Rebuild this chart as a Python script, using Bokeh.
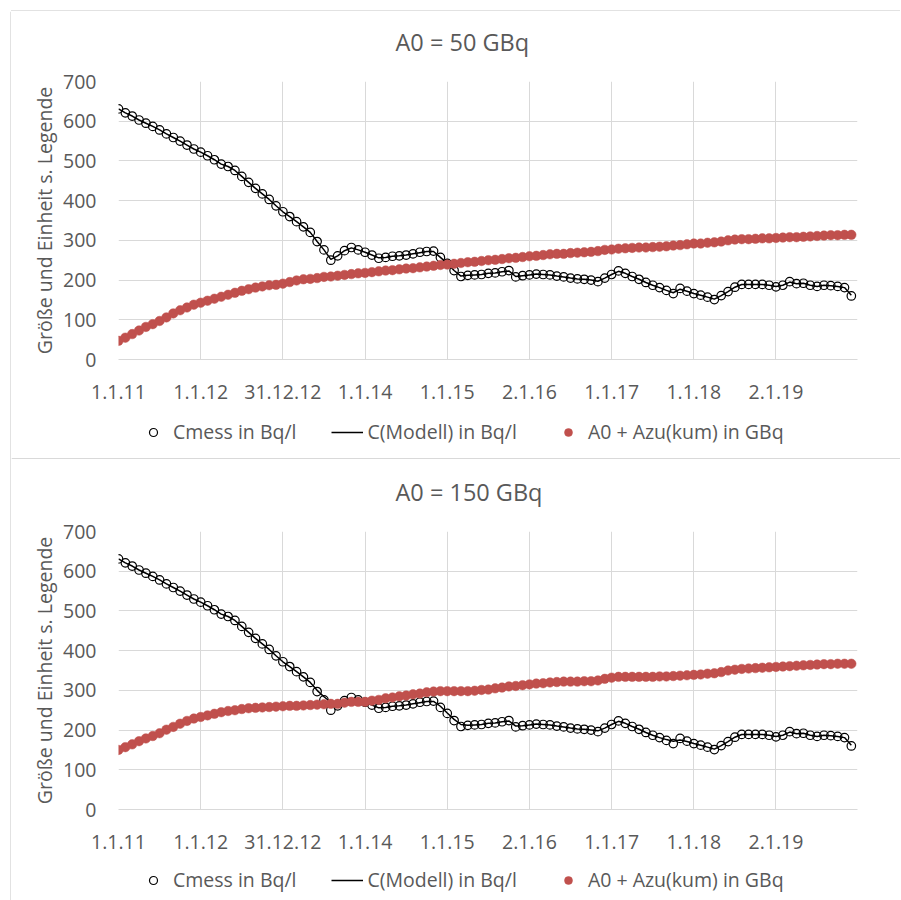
from bokeh.plotting import figure
from bokeh.models import Range1d, FixedTicker, Legend, LegendItem
from bokeh.core.properties import value
from bokeh.layouts import column, row
from bokeh.embed import file_html
from bokeh.resources import INLINE

# ---------------- data (monthly values, month 0 = 1.1.11) ----------------
MONTHS = list(range(108))
TICK_POS = [0, 12, 24, 36, 48, 60, 72, 84, 96]
TICK_LABELS = ["1.1.11", "1.1.12", "31.12.12", "1.1.14", "1.1.15",
               "2.1.16", "1.1.17", "1.1.18", "2.1.19"]
Y_TICKS = [0, 100, 200, 300, 400, 500, 600, 700]

TITLES = ["A0 = 50 GBq", "A0 = 150 GBq"]
LEGEND_LABELS = ["Cmess in Bq/l", "C(Modell) in Bq/l", "A0 + Azu(kum) in GBq"]
Y_LABEL = "Größe und Einheit s. Legende"

CMESS = [631, 621, 613, 603, 595, 587, 578, 568, 559, 550, 540, 530,
         522, 513, 503, 492, 486, 476, 461, 446, 431, 417, 403, 387,
         372, 360, 347, 334, 320, 297, 276, 250, 261, 274, 282, 276,
         270, 263, 255, 257, 260, 261, 263, 266, 270, 272, 273, 257,
         242, 224, 209, 212, 213, 214, 217, 218, 221, 224, 208, 211,
         213, 215, 214, 213, 210, 208, 205, 203, 202, 200, 196, 205,
         214, 223, 217, 209, 202, 194, 187, 181, 174, 166, 179, 172,
         166, 162, 157, 151, 161, 171, 182, 189, 189, 189, 189, 187,
         183, 187, 196, 191, 192, 187, 184, 187, 186, 184, 181, 160]

MODELL_50 = [631, 621, 613, 603, 595, 587, 578, 568, 559, 550, 540, 530,
             522, 513, 503, 492, 486, 476, 461, 446, 431, 417, 403, 387,
             372, 360, 347, 334, 320, 297, 276, 252, 261, 274, 281, 276,
             270, 263, 256, 257, 260, 261, 263, 266, 269, 272, 272, 257,
             242, 224, 210, 212, 213, 214, 217, 218, 221, 223, 209, 211,
             213, 215, 214, 213, 210, 208, 205, 203, 202, 200, 197, 205,
             214, 222, 217, 209, 202, 194, 187, 181, 174, 168, 177, 172,
             166, 162, 157, 152, 161, 171, 182, 189, 189, 189, 189, 187,
             184, 187, 195, 191, 192, 187, 184, 187, 186, 184, 181, 162]

MODELL_150 = [631, 621, 613, 603, 595, 587, 578, 568, 559, 550, 540, 530,
              522, 513, 503, 492, 486, 476, 461, 446, 431, 417, 403, 387,
              372, 360, 347, 334, 320, 300, 284, 270, 268, 272, 276, 275,
              270, 263, 256, 257, 260, 261, 263, 266, 269, 272, 272, 260,
              243, 227, 214, 212, 213, 214, 217, 218, 221, 223, 210, 211,
              213, 215, 214, 213, 210, 208, 205, 203, 202, 200, 198, 205,
              214, 222, 217, 209, 202, 194, 187, 181, 176, 172, 175, 171,
              166, 162, 157, 152, 161, 171, 182, 189, 189, 189, 189, 187,
              184, 187, 195, 191, 192, 187, 184, 187, 186, 184, 181, 162]

RED_50 = [47, 55, 64, 73, 82, 89, 97, 106, 116, 124, 131, 138,
          143, 148, 153, 158, 163, 168, 173, 177, 181, 184, 187, 188,
          191, 195, 199, 202, 203, 205, 208, 209, 211, 213, 215, 217,
          218, 220, 222, 224, 225, 227, 229, 230, 232, 234, 236, 238,
          239, 241, 243, 245, 246, 248, 250, 251, 253, 255, 256, 258,
          260, 261, 263, 265, 266, 266, 268, 269, 270, 271, 273, 276,
          277, 279, 280, 281, 282, 282, 283, 284, 285, 287, 288, 290,
          292, 292, 294, 295, 297, 300, 302, 303, 303, 304, 305, 305,
          306, 307, 308, 308, 309, 310, 311, 312, 313, 313, 314, 314]

RED_150 = [150, 157, 164, 172, 179, 185, 192, 201, 208, 216, 223, 229,
           233, 237, 241, 245, 248, 250, 253, 255, 256, 257, 258, 259,
           260, 261, 261, 262, 263, 264, 265, 266, 266, 269, 271, 271,
           271, 274, 276, 280, 282, 285, 287, 290, 292, 295, 297, 298,
           298, 298, 298, 298, 299, 301, 302, 305, 307, 310, 311, 313,
           315, 317, 318, 320, 321, 322, 322, 322, 323, 323, 325, 329,
           332, 334, 334, 334, 334, 334, 334, 335, 335, 336, 337, 338,
           339, 340, 342, 343, 346, 350, 352, 354, 355, 356, 357, 358,
           359, 360, 361, 362, 363, 364, 365, 366, 366, 367, 367, 367]

FONT = "Open Sans"
TXT = "#595959"
GRID = "#d9d9d9"
RED = "#c0504d"
W = 889          # width of the chart column (page x 11 .. 900)
OFF = 11         # page x of the chart column


def style_markers(p, xs, mess, modell, red):
    r_mess = p.scatter(xs, mess, marker="circle", size=8.5,
                       fill_color=None, line_color="black", line_width=1.2)
    r_mod = p.line(xs, modell, line_color="black", line_width=1.5)
    r_red = p.scatter(xs, red, marker="circle", size=9.5,
                      fill_color=RED, line_color=RED, line_width=0.5)
    return r_mess, r_mod, r_red


def blank(width, height):
    p = figure(width=width, height=height, x_range=Range1d(0, width),
               y_range=Range1d(0, height), output_backend="svg",
               toolbar_location=None, min_border=0,
               x_axis_location=None, y_axis_location=None)
    p.frame_align = False
    p.outline_line_color = None
    p.xgrid.visible = False
    p.ygrid.visible = False
    return p


def make_title(text, height, y):
    p = blank(W, height)
    p.text(x=[395 - OFF], y=[y], text=[text], text_font=value(FONT),
           text_font_size="23.5px", text_color=TXT,
           text_align="left", text_baseline="middle")
    return p


def make_main(red, modell, height, top):
    bottom = height - top - 278
    p = figure(width=W, height=height,
               x_range=Range1d(0, 107.9), y_range=Range1d(0, 700),
               output_backend="svg", toolbar_location=None,
               min_border_top=top, min_border_left=118 - OFF,
               min_border_right=W - (857 - OFF), min_border_bottom=bottom)
    p.outline_line_color = None

    p.xaxis.ticker = FixedTicker(ticks=TICK_POS)
    p.xaxis.major_label_overrides = {t: l for t, l in zip(TICK_POS, TICK_LABELS)}
    p.xaxis.axis_line_color = GRID
    p.xaxis.major_tick_line_color = None
    p.xaxis.minor_tick_line_color = None
    p.xaxis.major_label_standoff = 19
    p.xaxis.major_label_text_font = FONT
    p.xaxis.major_label_text_font_size = "19.5px"
    p.xaxis.major_label_text_color = TXT

    p.yaxis.ticker = FixedTicker(ticks=Y_TICKS)
    p.yaxis.axis_line_color = None
    p.yaxis.major_tick_line_color = None
    p.yaxis.minor_tick_line_color = None
    p.yaxis.major_label_standoff = 16
    p.yaxis.major_label_text_font = FONT
    p.yaxis.major_label_text_font_size = "19.5px"
    p.yaxis.major_label_text_color = TXT
    p.yaxis.axis_label = Y_LABEL
    p.yaxis.axis_label_standoff = 2
    p.yaxis.axis_label_text_font = FONT
    p.yaxis.axis_label_text_font_size = "19.5px"
    p.yaxis.axis_label_text_font_style = "normal"
    p.yaxis.axis_label_text_color = TXT

    p.xgrid.ticker = FixedTicker(ticks=TICK_POS)
    p.ygrid.ticker = FixedTicker(ticks=Y_TICKS)
    p.xgrid.grid_line_color = GRID
    p.ygrid.grid_line_color = GRID

    style_markers(p, MONTHS, CMESS, modell, red)
    return p


def make_legend(height, leg_y, separator):
    p = blank(W, height)
    # legend proxies lie outside the visible range
    r_mess, r_mod, r_red = style_markers(p, [-50, -40], [-50, -40],
                                         [-50, -40], [-50, -40])
    legend = Legend(items=[LegendItem(label=LEGEND_LABELS[0], renderers=[r_mess]),
                           LegendItem(label=LEGEND_LABELS[1], renderers=[r_mod]),
                           LegendItem(label=LEGEND_LABELS[2], renderers=[r_red])],
                    orientation="horizontal", location=(137 - OFF, leg_y),
                    glyph_width=32, glyph_height=20, label_standoff=4,
                    spacing=35, padding=0, margin=0,
                    border_line_color=None, background_fill_alpha=0,
                    label_text_font=FONT, label_text_font_size="19.5px",
                    label_text_color=TXT)
    p.add_layout(legend)
    if separator:
        p.line([0, W], [0.75, 0.75], line_color=GRID, line_width=1.5)
    return p


# chart-area border strips
top_strip = blank(OFF + W, OFF)
top_strip.line([10.5, OFF + W], [1.5, 1.5], line_color=GRID, line_width=1.5)
top_strip.line([10.5, 10.5], [0, 1.5], line_color=GRID, line_width=1.5)
left_strip = blank(OFF, 900 - OFF)
left_strip.line([10.5, 10.5], [0, 900 - OFF], line_color=GRID, line_width=1.5)

# page rows: title1 11-61, main1 61-412, legend1 412-459,
#            title2 459-509, main2 509-862, legend2 862-900
title1 = make_title(TITLES[0], 50, 20)
main1 = make_main(RED_50, MODELL_50, 351, 20)
leg1 = make_legend(47, 14, True)
title2 = make_title(TITLES[1], 50, 18)
main2 = make_main(RED_150, MODELL_150, 353, 22)
leg2 = make_legend(38, 7, False)

charts = column(title1, main1, leg1, title2, main2, leg2, spacing=0)
layout = column(top_strip, row(left_strip, charts, spacing=0), spacing=0)

open("out.html", "w").write(file_html(layout, INLINE))
